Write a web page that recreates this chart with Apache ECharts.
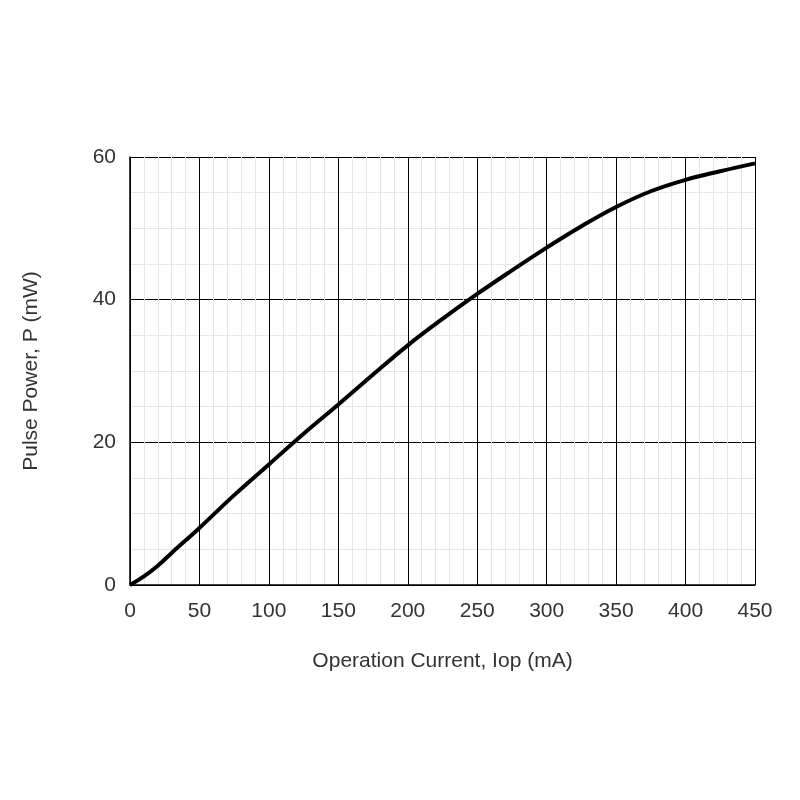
<!DOCTYPE html>
<html><head><meta charset="utf-8">
<script src="https://cdn.jsdelivr.net/npm/echarts@6/dist/echarts.min.js"></script>
<style>body{margin:0;background:#fff}#c{width:800px;height:800px}</style>
</head><body><div id="c"></div>
<script>
const current = [0, 10, 20, 30, 50, 75, 100, 125, 150, 175, 200, 225, 250, 275, 300, 325, 350, 375, 400, 425, 450];
const power = [0, 1.2, 2.7, 4.5, 8, 12.6, 16.9, 21.2, 25.3, 29.5, 33.6, 37.3, 40.8, 44.1, 47.3, 50.3, 53.0, 55.2, 56.8, 58.0, 59.1];

const chart = echarts.init(document.getElementById('c'));
const lbl = { color: '#333', fontSize: 21, fontFamily: 'Arial, Liberation Sans, sans-serif' };
chart.setOption({
	animation: false,
	grid: { left: 130, right: 45, top: 157, bottom: 215 },
	xAxis: {
		type: 'value', min: 0, max: 450, interval: 50,
		name: 'Operation Current, Iop (mA)', nameLocation: 'middle', nameGap: 66,
		nameTextStyle: lbl,
		axisLine: { lineStyle: { color: '#000', width: 1.5 } },
		axisTick: { show: false },
		axisLabel: Object.assign({ margin: 16 }, lbl),
		splitLine: { lineStyle: { color: '#000', width: 1 } },
		minorTick: { show: false, splitNumber: 5 },
		minorSplitLine: { show: true, lineStyle: { color: '#e6e6e6', width: 1 } }
	},
	yAxis: {
		type: 'value', min: 0, max: 60, interval: 20,
		name: 'Pulse Power, P (mW)', nameLocation: 'middle', nameGap: 88,
		nameTextStyle: lbl,
		axisLine: { show: true, lineStyle: { color: '#000', width: 1.5 } },
		axisTick: { show: false },
		axisLabel: Object.assign({ margin: 14 }, lbl),
		splitLine: { lineStyle: { color: '#000', width: 1 } },
		minorTick: { show: false, splitNumber: 4 },
		minorSplitLine: { show: true, lineStyle: { color: '#e6e6e6', width: 1 } }
	},
	series: [{
		type: 'line', smooth: 0.4, symbol: 'none',
		lineStyle: { color: '#000', width: 4 },
		data: current.map((c, i) => [c, power[i]])
	}]
});
</script>
</body></html>
